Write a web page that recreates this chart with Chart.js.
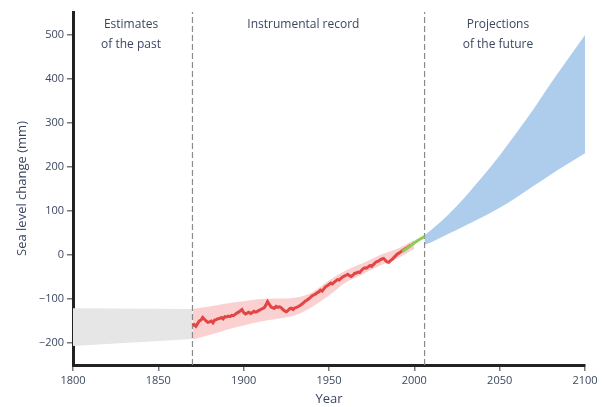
<!DOCTYPE html>
<html>
<head>
<meta charset="utf-8">
<script src="https://cdn.jsdelivr.net/npm/chart.js@4.4.1/dist/chart.umd.min.js"></script>
<style>
html,body{margin:0;padding:0;background:#fff;}
#wrap{width:602px;height:407px;}
</style>
</head>
<body>
<div id="wrap"><canvas id="seaChart"></canvas></div>
<script>
// x ticks / y ticks
const xTicks = [1800,1850,1900,1950,2000,2050,2100];
const yTicks = [-200,-100,0,100,200,300,400,500];

// estimates of the past (grey band)
const pastYears = [1800,1870];
const pastUpper = [-121,-123];
const pastLower = [-207,-191];

// instrumental record, red line
const tideYears = [1870,1871,1872,1873,1874,1875,1876,1877,1878,1879,1880,1881,1882,1883,1884,1885,1886,1887,1888,1889,
1890,1891,1892,1893,1894,1895,1896,1897,1898,1899,1900,1901,1902,1903,1904,1905,1906,1907,1908,1909,
1910,1911,1912,1913,1914,1915,1916,1917,1918,1919,1920,1921,1922,1923,1924,1925,1926,1927,1928,1929,
1930,1931,1932,1933,1934,1935,1936,1937,1938,1939,1940,1941,1942,1943,1944,1945,1946,1947,1948,1949,
1950,1951,1952,1953,1954,1955,1956,1957,1958,1959,1960,1961,1962,1963,1964,1965,1966,1967,1968,1969,
1970,1971,1972,1973,1974,1975,1976,1977,1978,1979,1980,1981,1982,1983,1984,1985,1986,1987,1988,1989,
1990,1991,1992,1993,1994,1995,1996,1997,1998];
const tideLevel = [-160,-158,-162,-156,-150,-148,-142,-146,-150,-153,-152,-150,-154,-148,-147,-145,-144,-142,-145,-140,
-141,-139,-140,-137,-138,-135,-132,-130,-127,-124,-131,-134,-132,-130,-133,-131,-128,-130,-128,-126,
-124,-122,-120,-114,-106,-112,-118,-120,-121,-117,-119,-118,-120,-124,-127,-129,-126,-122,-121,-124,
-120,-119,-117,-115,-112,-109,-105,-103,-100,-97,-93,-91,-89,-86,-84,-80,-82,-77,-72,-70,
-67,-64,-66,-62,-59,-56,-57,-53,-50,-48,-46,-44,-47,-49,-46,-42,-41,-39,-40,-35,
-31,-29,-30,-27,-24,-26,-22,-18,-15,-14,-11,-9,-8,-12,-16,-17,-13,-10,-6,-2,
2,4,7,10,12,15,17,20,23];

// uncertainty of the instrumental record
const bandYears = [1870,1880,1890,1900,1910,1920,1930,1940,1950,1960,1970,1980,1990,2000];
const bandUpper = [-123,-117,-110,-105,-100,-99,-97,-85,-58,-35,-18,0,14,34];
const bandLower = [-192,-182,-170,-160,-151,-145,-137,-118,-92,-62,-43,-24,-8,14];

// satellite record, green line
const satYears = [1993,1996,1999,2002,2006];
const satLevel = [8,16,25,33,42];

// projections (blue band)
const projYears = [2006,2010,2020,2030,2040,2050,2060,2070,2080,2090,2100];
const projUpper = [45,57,92,133,178,226,278,332,390,445,500];
const projLower = [23,29,48,67,86,107,131,157,183,207,231];

// period dividers
const dividers = [1870,2006];

const txtColor = "#3c4660";
const fontFam = "'Open Sans', sans-serif";

function pts(xs,ys){ return xs.map((x,i)=>({x:x,y:ys[i]})); }

const smooth = {tension:0.4,cubicInterpolationMode:"monotone"};

const datasets = [
{data:pts(pastYears,pastUpper),borderWidth:0,pointRadius:0,fill:false,order:5},
{data:pts(pastYears,pastLower),borderWidth:0,pointRadius:0,fill:"-1",backgroundColor:"#e6e6e6",order:5},
Object.assign({data:pts(bandYears,bandUpper),borderWidth:0,pointRadius:0,fill:false,order:4},smooth),
Object.assign({data:pts(bandYears,bandLower),borderWidth:0,pointRadius:0,fill:"-1",backgroundColor:"rgba(246,170,170,0.55)",order:4},smooth),
{data:pts(tideYears,tideLevel),borderColor:"#e34545",borderWidth:3,pointRadius:0,fill:false,order:1},
{data:pts(satYears,satLevel),borderColor:"#8fca52",borderWidth:3,pointRadius:0,fill:false,order:0},
Object.assign({data:pts(projYears,projUpper),borderWidth:0,pointRadius:0,fill:false,order:4},smooth),
Object.assign({data:pts(projYears,projLower),borderWidth:0,pointRadius:0,fill:"-1",backgroundColor:"#aecdec",order:4},smooth)
];

dividers.forEach(d=>{
datasets.push({data:[{x:d,y:-250},{x:d,y:552}],borderColor:"#8a8a8a",borderWidth:1.2,borderDash:[6,3],pointRadius:0,fill:false,order:2});
});

const labelPlugin = {
id:"periodLabels",
afterDatasetsDraw(chart){
const ctx = chart.ctx;
const xs = chart.scales.x;
ctx.save();
ctx.fillStyle = txtColor;
ctx.font = "12px " + fontFam;
ctx.textAlign = "center";
ctx.textBaseline = "middle";
ctx.fillText("Estimates", xs.getPixelForValue(1834), 25);
ctx.fillText("of the past", xs.getPixelForValue(1834), 45);
ctx.fillText("Instrumental record", xs.getPixelForValue(1935), 25);
ctx.fillText("Projections", xs.getPixelForValue(2049), 25);
ctx.fillText("of the future", xs.getPixelForValue(2049), 45);
ctx.restore();
}
};

new Chart(document.getElementById("seaChart"),{
type:"line",
data:{datasets:datasets},
plugins:[labelPlugin],
options:{
responsive:true,
maintainAspectRatio:false,
animation:false,
layout:{padding:{top:12,right:17,left:14,bottom:0}},
plugins:{legend:{display:false},tooltip:{enabled:false}},
scales:{
x:{
type:"linear",
min:1800,max:2100,
afterBuildTicks(s){ s.ticks = xTicks.map(v=>({value:v})); },
afterFit(s){ s.height = 42; },
border:{color:"#222",width:3},
grid:{drawOnChartArea:false,drawTicks:true,tickLength:6,color:"#777",lineWidth:1.5},
ticks:{color:txtColor,font:{family:fontFam,size:11},padding:3,maxRotation:0,callback:v=>String(v)},
title:{display:true,text:"Year",color:txtColor,font:{family:fontFam,size:13},padding:{top:0,bottom:0}}
},
y:{
type:"linear",
min:-250,max:552,
afterBuildTicks(s){ s.ticks = yTicks.map(v=>({value:v})); },
afterFit(s){ s.width = 59; },
border:{color:"#222",width:3},
grid:{drawOnChartArea:false,drawTicks:true,tickLength:6,color:"#777",lineWidth:1.5},
ticks:{color:txtColor,font:{family:fontFam,size:11},padding:3,
callback:v=>v<0 ? "\u2212"+Math.abs(v) : String(v)},
title:{display:true,text:"Sea level change (mm)",color:txtColor,font:{family:fontFam,size:13},padding:{top:0,bottom:4}}
}
}
}
});
</script>
</body>
</html>
